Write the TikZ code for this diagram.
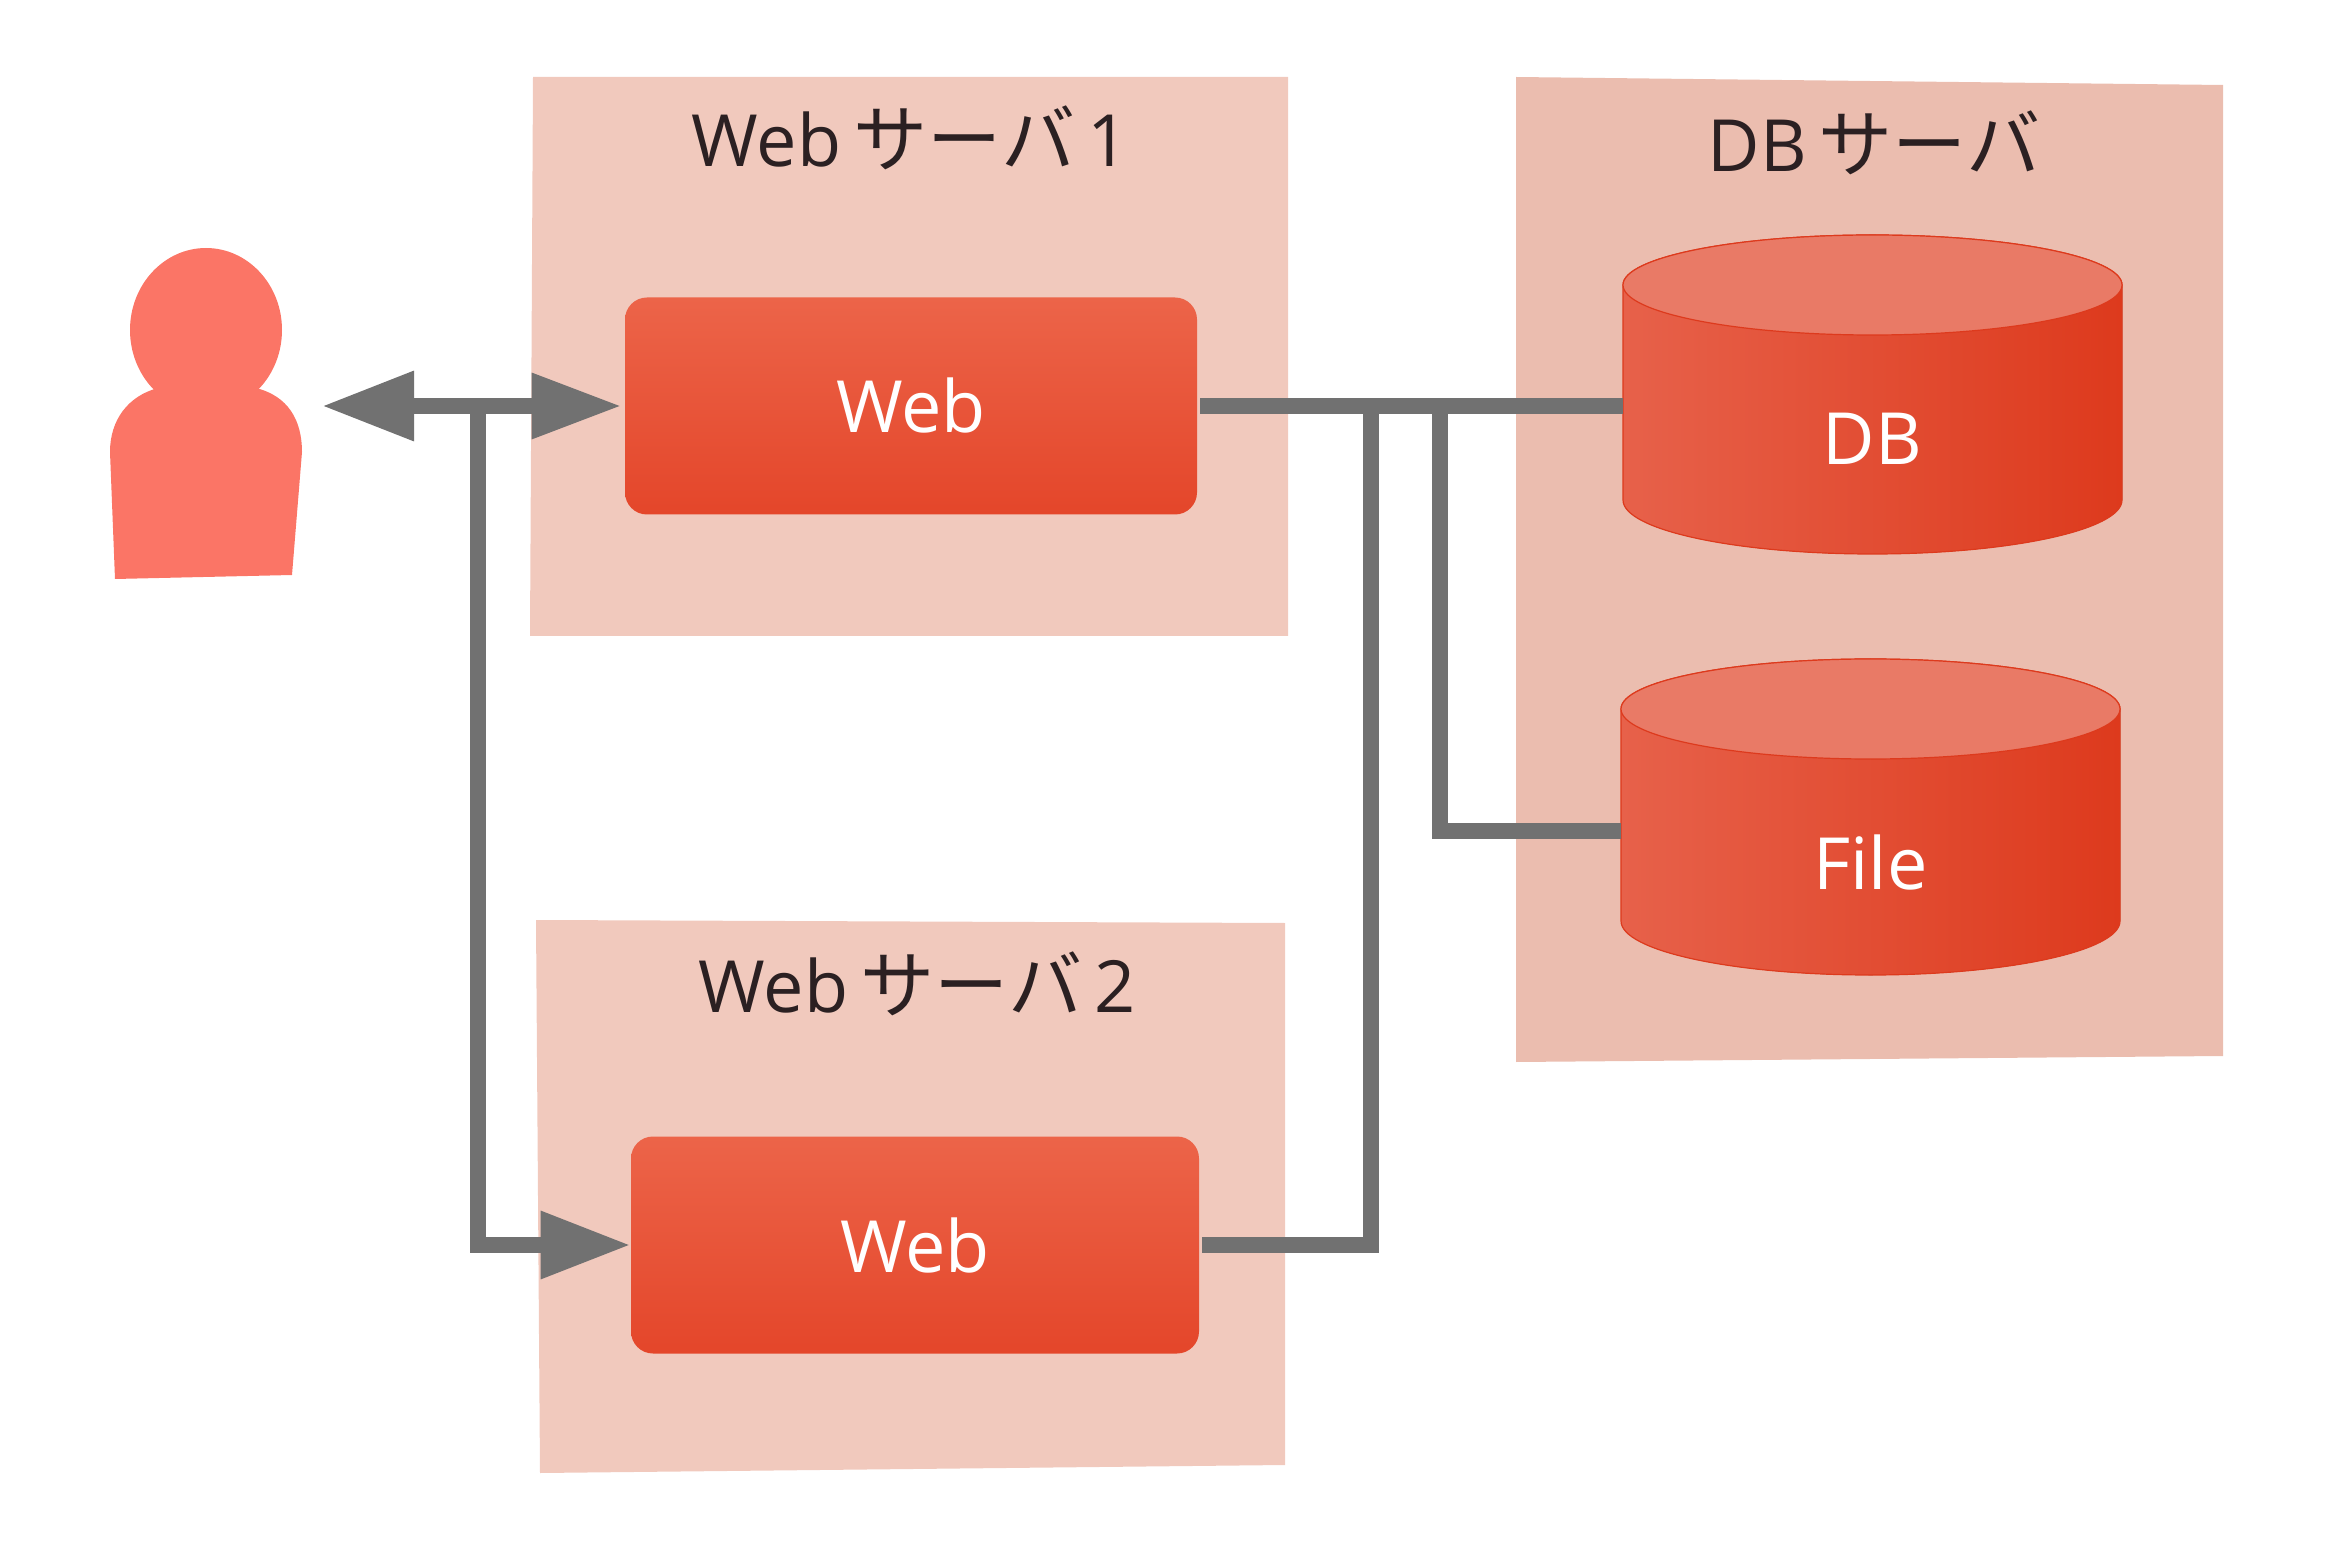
\documentclass[tikz,border=0pt]{standalone}
\usepackage{fontspec}
\setmainfont{Open Sans}
\newfontfamily\cjk[Scale=1.03]{Noto Sans CJK JP}
\usetikzlibrary{arrows.meta,calc}
\definecolor{srvA}{HTML}{F1C9BD}
\definecolor{srvB}{HTML}{EBBDAF}
\definecolor{nodeTop}{HTML}{EC6449}
\definecolor{nodeMid}{HTML}{E8533A}
\definecolor{nodeBot}{HTML}{E4462A}
\definecolor{cylTop}{HTML}{E97A66}
\definecolor{cylL}{HTML}{E7614A}
\definecolor{cylM}{HTML}{E24A2E}
\definecolor{cylR}{HTML}{DD3A1D}
\definecolor{conn}{HTML}{717171}
\definecolor{person}{HTML}{FB7566}
\definecolor{ink}{HTML}{2B2022}
\tikzset{
  x=0.5pt,y=-0.5pt,
  lbl/.style={font=\fontsize{36}{40}\selectfont,inner sep=0pt},
  titlelbl/.style={lbl,text=ink},
  webbox/.style={lbl,text=white,rectangle,rounded corners=11pt,top color=nodeTop,middle color=nodeMid,bottom color=nodeBot,minimum width=#1,minimum height=108.5pt},
  cyllbl/.style={lbl,text=white,minimum width=249.5pt},
  cylbody/.style={left color=cylL,middle color=cylM,right color=cylR,draw=cylR,line width=.6pt},
  cylend/.style={fill=cylTop,draw=cylR,line width=.6pt},
  link/.style={draw=conn,line width=8pt,line join=miter}
}
\begin{document}
\begin{tikzpicture}
\useasboundingbox (0,0) rectangle (2335,1561);
% server panels
\fill[srvA] (533,77) -- (1288,77) -- (1288,636) -- (530,636) -- cycle;
\fill[srvA] (536,920) -- (1285,923) -- (1285,1465) -- (540,1473) -- cycle;
\fill[srvB] (1516,77) -- (2223,85) -- (2223,1056) -- (1516,1062) -- cycle;
\node[titlelbl] (t1) at (910,138) {Web\,{\cjk サーバ}\,1};
\node[titlelbl] (t2) at (917,984) {Web\,{\cjk サーバ}\,2};
\node[titlelbl] (t3) at (1874,143) {DB\,{\cjk サーバ}};
% person
\fill[person] (206,330) ellipse [x radius=38pt,y radius=41pt];
\fill[person] (158,388) .. controls (128,396) and (110,420) .. (110,452)
  -- (115,579) -- (292,575) -- (302,452)
  .. controls (302,420) and (288,396) .. (256,388)
  .. controls (230,410) and (184,410) .. (158,388) -- cycle;
\fill[person] (158,385) -- (256,385) -- (256,400) -- (158,400) -- cycle;
% web nodes
\node[webbox=286pt] (web1) at (911,406) {Web};
\node[webbox=284pt] (web2) at (915,1245) {Web};
% cylinders
\fill[cylbody] (1623,285) -- (1623,500)
  arc [start angle=180,end angle=360,x radius=249.5*0.5pt,y radius=27pt] -- (2122,285)
  arc [start angle=0,end angle=180,x radius=249.5*0.5pt,y radius=25pt] -- cycle;
\fill[cylend] (1872.5,285) ellipse [x radius=249.5*0.5pt,y radius=25pt];
\fill[cylbody] (1621,709) -- (1621,921)
  arc [start angle=180,end angle=360,x radius=249.5*0.5pt,y radius=27pt] -- (2120,709)
  arc [start angle=0,end angle=180,x radius=249.5*0.5pt,y radius=25pt] -- cycle;
\fill[cylend] (1870.5,709) ellipse [x radius=249.5*0.5pt,y radius=25pt];
\node[cyllbl] (db) at (1872.5,439) {DB};
\node[cyllbl] (file) at (1870.5,862) {File};
% connectors
\coordinate (userport) at (322,406);
\coordinate (j1) at (478,406);
\coordinate (j2) at (1371,406);
\coordinate (j3) at (1440,406);
\coordinate (fileport) at (1621,831);
\draw[link,{Triangle[length=46pt,width=33pt]}-{Triangle[length=45pt,width=31pt]},shorten >=1.5pt] (userport) -- (web1.west);
\draw[link,-{Triangle[length=45pt,width=32pt]}] (j1) |- (web2.west);
\draw[link,shorten <=1.5pt] (web1.east) -- (web1.east -| db.west);
\draw[link,shorten <=1.5pt] (web2.east) -| (j2);
\draw[link] (j3) |- (fileport);
\end{tikzpicture}
\end{document}
